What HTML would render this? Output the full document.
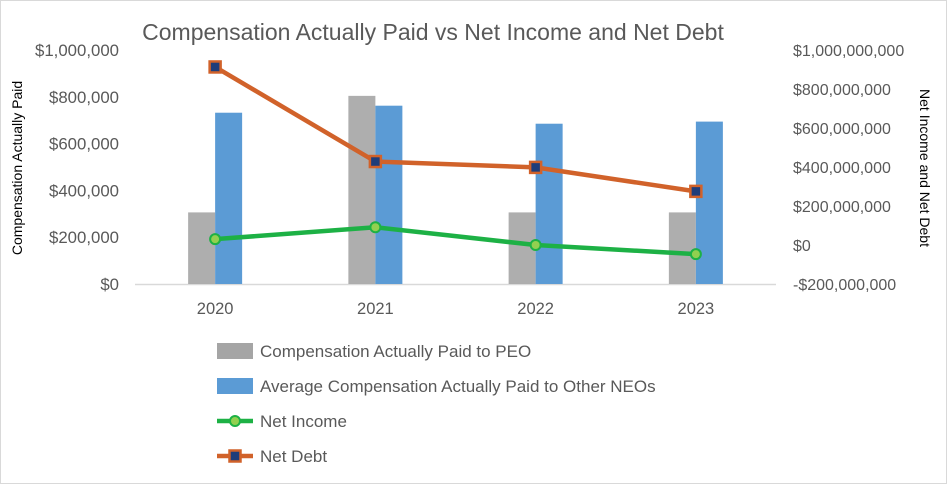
<!DOCTYPE html>
<html><head><meta charset="utf-8"><style>
body{margin:0;background:#fff}
svg{display:block;font-family:"Liberation Sans",sans-serif}
</style></head><body>
<svg width="947" height="484" viewBox="0 0 947 484">
<rect x="0.5" y="0.5" width="946" height="483" fill="#fff" stroke="#d9d9d9"/>
<text x="433" y="40" text-anchor="middle" font-size="23" fill="#595959">Compensation Actually Paid vs Net Income and Net Debt</text>
<text transform="translate(22,168) rotate(-90)" text-anchor="middle" font-size="14" fill="#000">Compensation Actually Paid</text>
<text transform="translate(920,168) rotate(90)" text-anchor="middle" font-size="14" fill="#000">Net Income and Net Debt</text>
<g id="plot"></g>
<g id="legend"></g>
</svg>
<script>
const categories=["2020","2021","2022","2023"];
const peoPay=[306000,804000,306000,306000];
const neoPay=[732000,762000,685000,694000];
const netIncome=[30000000,91000000,0,-47000000];
const netDebt=[913000000,428000000,398000000,275000000];
const leftTicks=[0,200000,400000,600000,800000,1000000];
const leftLabels=["$0","$200,000","$400,000","$600,000","$800,000","$1,000,000"];
const rightTicks=[-200000000,0,200000000,400000000,600000000,800000000,1000000000];
const rightLabels=["-$200,000,000","$0","$200,000,000","$400,000,000","$600,000,000","$800,000,000","$1,000,000,000"];
const NS="http://www.w3.org/2000/svg";
const plot=document.getElementById('plot'),legend=document.getElementById('legend');
const y0=284,yTop=50,xL=135,xR=776;
const yL=v=>y0-(v/1000000)*(y0-yTop);
const yR=v=>y0-((v+200000000)/1200000000)*(y0-yTop);
const xC=i=>xL+(xR-xL)/categories.length*(i+0.5);
function mk(t,a,p){const e=document.createElementNS(NS,t);for(const k in a)e.setAttribute(k,a[k]);(p||plot).appendChild(e);return e;}
leftTicks.forEach((v,i)=>{const t=mk('text',{x:119,y:yL(v)+6,'text-anchor':'end','font-size':16.8,fill:'#595959'});t.textContent=leftLabels[i];

});
rightTicks.forEach((v,i)=>{const t=mk('text',{x:793,y:yR(v)+6,'font-size':16,fill:'#595959'});t.textContent=rightLabels[i];

});
const ax=mk('line',{x1:xL,x2:xR,y1:y0+0.5,y2:y0+0.5,stroke:'#d9d9d9','stroke-width':1.5});


categories.forEach((c,i)=>{
const cx=xC(i);
const g=mk('rect',{x:cx-27,y:yL(peoPay[i]),width:27,height:y0-yL(peoPay[i]),fill:'#a5a5a5',opacity:0.9});


const b=mk('rect',{x:cx,y:yL(neoPay[i]),width:27,height:y0-yL(neoPay[i]),fill:'#5b9bd5'});


const t=mk('text',{x:cx,y:314,'text-anchor':'middle','font-size':16.5,fill:'#595959'});t.textContent=c;


});
function line(vals,color,name){const p=mk('polyline',{points:vals.map((v,i)=>xC(i)+','+yR(v)).join(' '),fill:'none',stroke:color,'stroke-width':4.5});

}
line(netIncome,'#1db145','net-income-line');
line(netDebt,'#d1622a','net-debt-line');
netIncome.forEach((v,i)=>{const m=mk('circle',{cx:xC(i),cy:yR(v),r:5,fill:'#92d050',stroke:'#1db145','stroke-width':2});

});
netDebt.forEach((v,i)=>{const m=mk('rect',{x:xC(i)-5.5,y:yR(v)-5.5,width:11,height:11,fill:'#1f3d7a',stroke:'#d1622a','stroke-width':2.5});

});
const items=[["Compensation Actually Paid to PEO","bar","#a5a5a5"],["Average Compensation Actually Paid to Other NEOs","bar","#5b9bd5"],["Net Income","circle","#1db145"],["Net Debt","square","#d1622a"]];
items.forEach((it,i)=>{const y=351+i*35;
if(it[1]==='bar'){const r=mk('rect',{x:217,y:y-8,width:36,height:16,fill:it[2]},legend);}
else{const l=mk('line',{x1:217,x2:253,y1:y,y2:y,stroke:it[2],'stroke-width':4.5},legend);
if(it[1]==='circle')mk('circle',{cx:235,cy:y,r:5,fill:'#92d050',stroke:'#1db145','stroke-width':2},legend);
else mk('rect',{x:229.5,y:y-5.5,width:11,height:11,fill:'#1f3d7a',stroke:'#d1622a','stroke-width':2.5},legend);}
const t=mk('text',{x:260,y:y+6,'font-size':17,fill:'#595959'},legend);t.textContent=it[0];

});
</script>
</body></html>
